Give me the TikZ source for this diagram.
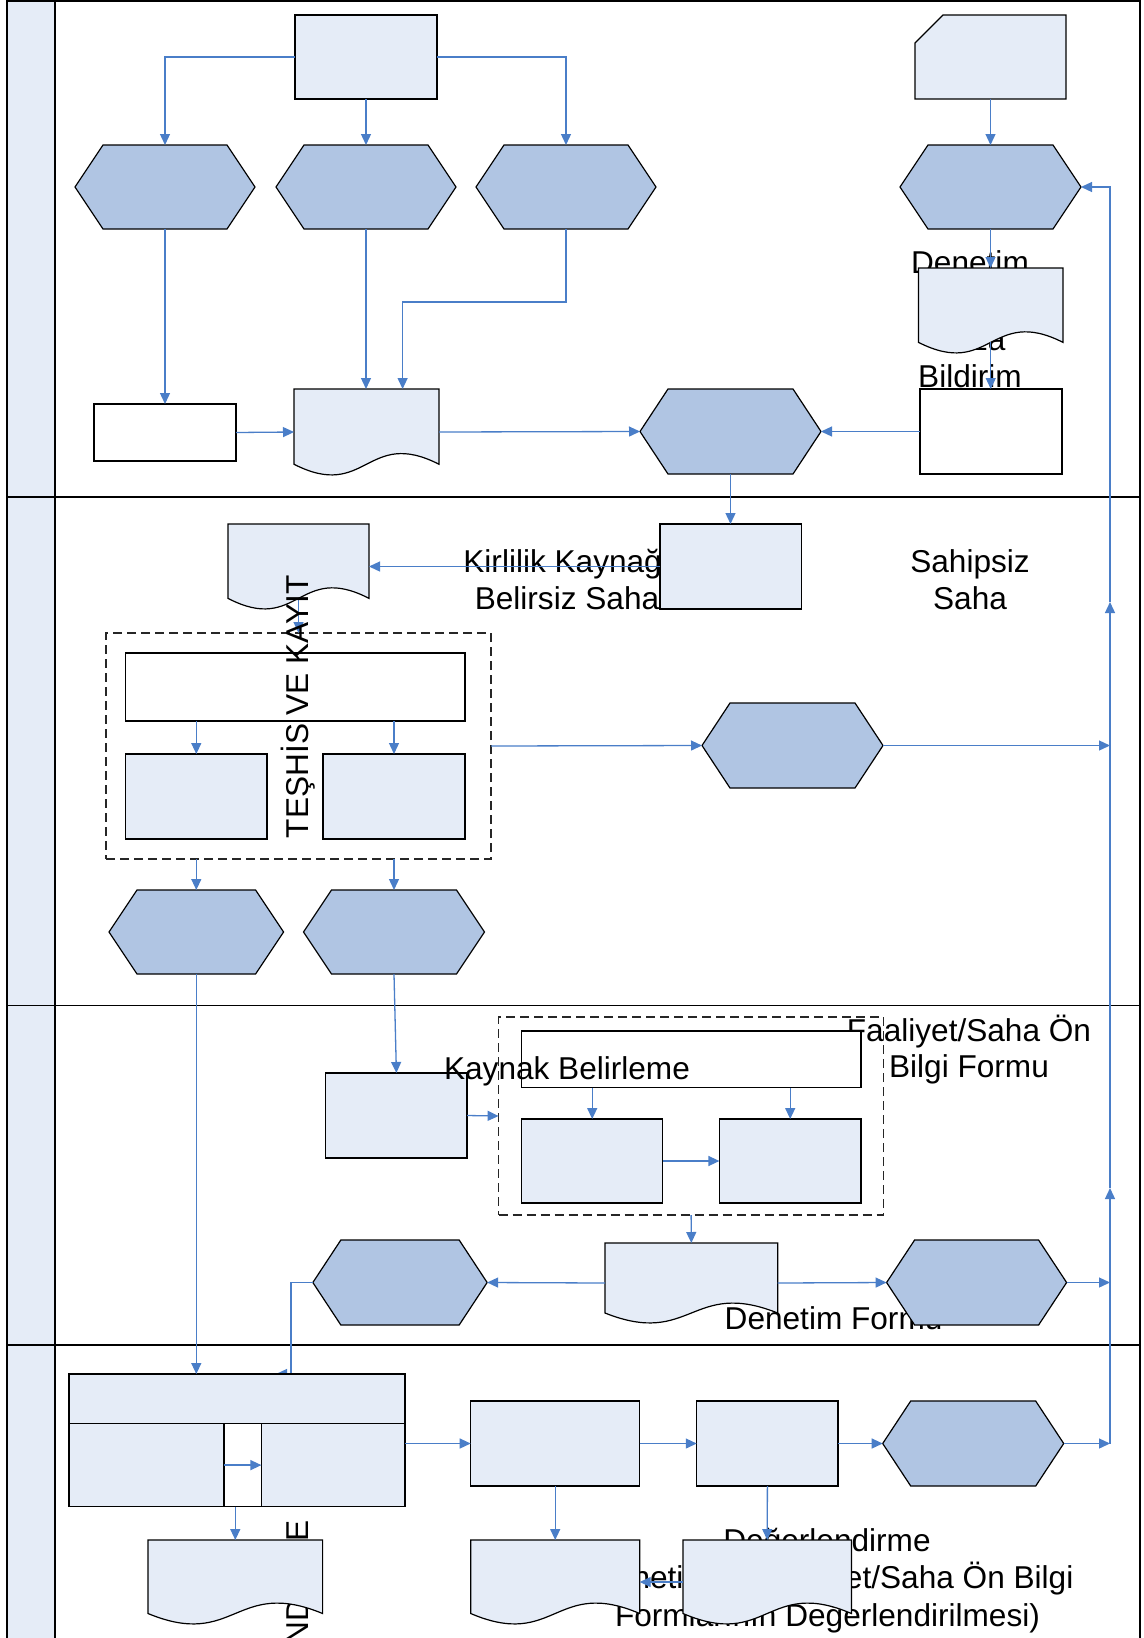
\documentclass[tikz,border=0pt]{standalone}
\usepackage{fontspec}
\setmainfont{Liberation Sans}
\usetikzlibrary{arrows.meta,calc}
\definecolor{lite}{HTML}{E5ECF7}
\definecolor{hexc}{HTML}{B0C5E3}
\definecolor{conc}{HTML}{4A7EC8}
\tikzset{
 basic/.style={inner sep=0pt, outer sep=0pt},
 ghost/.style={basic, rectangle},
 box/.style={basic, rectangle, draw=black, line width=1.2pt, fill=lite},
 wbox/.style={box, fill=white},
 hexpath/.style={draw=black, line width=1.2pt, fill=hexc, line join=miter},
 docpath/.style={draw=black, line width=1.2pt, fill=lite},
 conn/.style={draw=conc, line width=1.3pt, -{Triangle[length=11pt,width=10pt]}},
 dashbox/.style={basic, rectangle, draw=black!85, line width=1.1pt, dash pattern=on 9pt off 5pt},
 lbl/.style={basic, font=\fontsize{31.6}{37.5}\selectfont, anchor=base},
 frame/.style={draw=black, line width=1.8pt},
}
\newcommand\mkhex[5]{%
 \node[ghost, minimum width=#4, minimum height=#5] (#1) at (#2,#3) {};
 \path[hexpath] (#1.west) -- ([xshift=28pt]#1.north west) -- ([xshift=-28pt]#1.north east) -- (#1.east) -- ([xshift=-28pt]#1.south east) -- ([xshift=28pt]#1.south west) -- cycle;}
\newcommand\mkdoc[5]{%
 \node[ghost, anchor=north west, minimum width=#4, minimum height=#5] (#1) at (#2,#3) {};
 \path[docpath] (#2,#3) -- ({#2+#4},#3) -- ({#2+#4},{#3+0.875*#5}) .. controls ({#2+0.5*#4},{#3+0.445*#5}) and ({#2+0.5*#4},{#3+1.305*#5}) .. (#2,{#3+0.875*#5}) -- cycle;}
\begin{document}
\begin{tikzpicture}[x=1pt,y=-1pt]
\useasboundingbox (0,0) rectangle (1143,1638);
\clip (0,0) rectangle (1143,1638);
% lanes
\fill[lite] (7,1) rectangle (55,1650);
\draw[frame] (7,1) rectangle (1140,1650);
\draw[frame] (55,1) -- (55,1650);
\draw[frame] (7,497) -- (1140,497);
\draw[frame] (7,1005.5) -- (1140,1005.5);
\draw[frame] (7,1344.6) -- (1140,1344.6);
% texts lying under shapes
\node[lbl] (tDen) at (970,273) {Denetim};
\node[lbl, anchor=base east] (tZa) at (1005.5,350) {za};
\node[lbl] (tBil) at (970,387) {Bildirim};
\node[lbl] (tKir1) at (567,572) {Kirlilik Kaynağı};
\node[lbl] (tKir2) at (567,609) {Belirsiz Saha};
\node[lbl] (tSah1) at (970,572) {Sahipsiz};
\node[lbl] (tSah2) at (970,609) {Saha};
\begin{scope}
\clip (800,1005) rectangle (1089,1100);
\node[lbl] (tFaa1) at (969,1041) {Faaliyet/Saha Ön};
\end{scope}
\node[lbl] (tFaa2) at (969,1077) {Bilgi Formu};
\node[lbl] (tDeg1) at (827,1551.5) {Değerlendirme};
\node[lbl] (tDeg2) at (827.5,1588.5) {(Denetim ve Faaliyet/Saha Ön Bilgi};
\node[lbl] (tDeg3) at (827.5,1626) {Formlarının Değerlendirilmesi)};
\node[lbl, rotate=90, anchor=base east] (tLane5) at (308,1520) {DEĞERLENDİRME};
% lane 1 shapes
\node[box, minimum width=142, minimum height=84] (top) at (366,57) {};
\mkhex{h1}{165}{187}{180}{84}
\mkhex{h2}{366}{187}{180}{84}
\mkhex{h3}{566}{187}{180}{84}
\node[ghost, minimum width=151, minimum height=84] (card) at (990.5,57) {};
\path[docpath] ([yshift=-28pt]card.north west) -- ([xshift=28pt]card.north west) -- (card.north east) -- (card.south east) -- (card.south west) -- cycle;
\mkhex{h5}{990.5}{187}{181}{84}
\node[wbox, minimum width=142, minimum height=57] (r1) at (165,432.5) {};
\mkdoc{d1}{294}{389}{145}{86}
\mkhex{h4}{730.5}{431.5}{181}{85}
\mkdoc{d2}{918.5}{268}{144.5}{85}
\node[wbox, minimum width=142, minimum height=85] (r2) at (991,431.5) {};
% lane 2 shapes
\node[box, minimum width=141.5, minimum height=85] (r3) at (730.8,566.5) {};
\mkdoc{d3}{228}{524}{141}{85}
\node[dashbox, minimum width=385, minimum height=226] (g1) at (298.5,746) {};
\node[wbox, minimum width=339.5, minimum height=68] (w1) at (295.3,687) {};
\node[box, minimum width=141.5, minimum height=85] (s1) at (196.3,796.5) {};
\node[box, minimum width=142, minimum height=85] (s2) at (394,796.5) {};
\mkhex{hL}{196.3}{932}{174.6}{84}
\mkhex{hR}{394}{932}{181}{84}
\mkhex{h6}{792.5}{745.5}{181}{85}
% lane 3 shapes
\node[box, minimum width=141.3, minimum height=85] (b4) at (396.4,1115.5) {};
\node[dashbox, minimum width=385, minimum height=198] (g2) at (691.1,1116) {};
\node[wbox, minimum width=339.4, minimum height=56.5] (w2) at (691.3,1059.25) {};
\node[box, minimum width=141.1, minimum height=84] (s3) at (592.2,1161) {};
\node[box, minimum width=141.6, minimum height=84] (s4) at (790.2,1161) {};
\mkdoc{d4}{605}{1243}{172.7}{80}
\mkhex{h8}{400}{1282.5}{174.3}{85}
% connector partly hidden by the table box
\coordinate (k1) at (291,1374);
\coordinate (k2) at (276,1374);
\draw[conn] (h8.west) -| (k1) -- (k2);
% lane 5 shapes
\node[box, minimum width=336, minimum height=132.6] (bb) at (237,1440.3) {};
\node[box, minimum width=155, minimum height=83] (cL) at (146.5,1465.1) {};
\node[wbox, minimum width=37.4, minimum height=83] (cM) at (242.7,1465.1) {};
\node[box, minimum width=143.6, minimum height=83] (cR) at (333.2,1465.1) {};
\node[box, minimum width=169, minimum height=85] (rA) at (555.2,1443.5) {};
\node[box, minimum width=141.3, minimum height=85] (rB) at (767.4,1443.5) {};
\mkhex{h9}{973.2}{1443.5}{181}{85}
\mkdoc{d5}{148}{1540}{174.6}{84}
\mkdoc{d6}{470.7}{1540}{169}{84}
\mkdoc{d7}{683}{1540}{168.4}{84}
\node[lbl, anchor=base west] (tDF) at (724.7,1329) {Denetim Formu};
\mkhex{h7}{976.6}{1282.5}{180}{85}
% connectors
\draw[conn] (top.west) -| (h1.north);
\draw[conn] (top.south) -- (h2.north);
\draw[conn] (top.east) -| (h3.north);
\draw[conn] (h1.south) -- (r1.north);
\draw[conn] (h2.south) -- (h2.south |- d1.north);
\coordinate (j1) at (402.6,302);
\draw[conn] (h3.south) |- (j1) -- (j1 |- d1.north);
\draw[conn] (r1.east) -- (d1.west);
\draw[conn] (d1.east) -- (h4.west);
\draw[conn] (card.south) -- (h5.north);
\draw[conn] (h5.south) -- (h5.south |- d2.north);
\coordinate (d2b) at (990.75,342.4);
\draw[conn] (d2b) -- (d2b |- r2.north);
\draw[conn] (r2.west) -- (h4.east);
\draw[conn] (h4.south) -- (h4.south |- r3.north);
\draw[conn] (r3.west) -- (d3.east);
\coordinate (d3b) at (298.5,598.4);
\draw[conn] (d3b) -- (g1.north);
\draw[conn] (s1.north |- w1.south) -- (s1.north);
\draw[conn] (s2.north |- w1.south) -- (s2.north);
\draw[conn] (hL.north |- g1.south) -- (hL.north);
\draw[conn] (hR.north |- g1.south) -- (hR.north);
\draw[conn] (g1.east) -- (h6.west);
\coordinate (v1) at (1110,745.5);
\draw[conn] (h6.east) -- (v1);
\draw[conn] (hL.south) -- (hL.south |- bb.north);
\draw[conn] (hR.south) -- (b4.north);
\draw[conn] (b4.east) -- (g2.west);
\draw[conn] (s3.north |- w2.south) -- (s3.north);
\draw[conn] (s4.north |- w2.south) -- (s4.north);
\draw[conn] (s3.east) -- (s4.west);
\draw[conn] (g2.south) -- (d4.north);
\draw[conn] (d4.east) -- (h7.west);
\draw[conn] (d4.west) -- (h8.east);
\coordinate (v2) at (1110,1282.5);
\draw[conn] (h7.east) -- (v2);
\draw[conn] (cM.west) -- (cR.west);
\draw[conn] (bb.east |- rA.west) -- (rA.west);
\draw[conn] (rA.east) -- (rB.west);
\draw[conn] (rB.east) -- (h9.west);
\coordinate (v3) at (1110,1443.5);
\draw[conn] (h9.east) -- (v3);
\draw[conn] (d5.north |- bb.south) -- (d5.north);
\draw[conn] (rA.south) -- (d6.north);
\draw[conn] (rB.south) -- (d7.north);
\draw[conn] (d7.west) -- (d6.east);
\coordinate (u1) at (1110,1188);
\coordinate (u2) at (1110,602);
\coordinate (v0) at (1110,187);
\draw[conn] (v3) -- (u1);
\draw[conn] (u1) -- (u2);
\draw[conn] (u2) -- (v0) -- (h5.east);
% texts on top
\node[lbl, rotate=90, anchor=base west] (tLane2) at (308,838) {TEŞHİS VE KAYIT};
\node[lbl] (tKB) at (567,1079) {Kaynak Belirleme};
\end{tikzpicture}
\end{document}
